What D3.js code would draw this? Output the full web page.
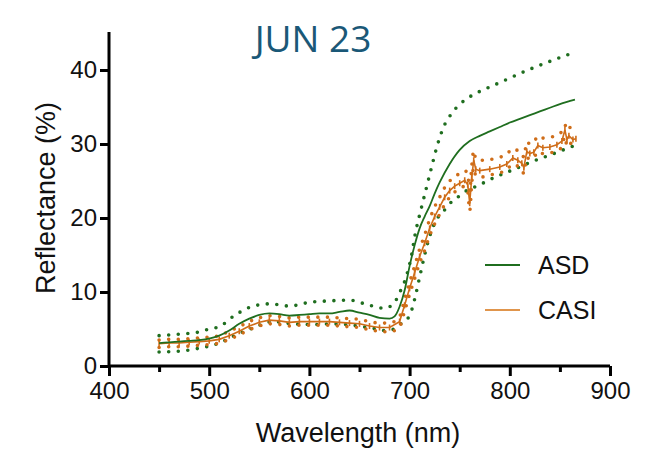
<!DOCTYPE html>
<html>
<head>
<meta charset="utf-8">
<script src="https://cdn.jsdelivr.net/npm/d3@7"></script>
<style>
  body { margin: 0; background: #fff; }
  svg { display: block; }
  .tick text { font-family: "Liberation Sans", Arial, sans-serif; }
</style>
</head>
<body>
<div class="chart"></div>
<script>
// ASD mean spectrum (nm, %)
var asdWl   = [450,460,470,480,490,500,510,520,530,540,550,560,570,580,590,600,610,620,630,640,650,660,670,680,685,690,695,700,705,710,715,720,725,730,740,750,760,770,780,790,800,810,820,830,840,850,865];
var asdMean = [3.1,3.2,3.3,3.4,3.5,3.7,4.1,4.8,5.7,6.4,6.9,7.1,7.0,6.8,6.9,7.0,7.1,7.1,7.3,7.5,7.2,6.9,6.5,6.4,6.7,8.0,10.2,13.5,16.3,18.6,20.2,21.6,23.3,24.8,27.3,29.2,30.4,31.1,31.7,32.3,32.9,33.4,33.9,34.4,34.9,35.4,36.0];

// ASD mean + sd
var asdUpWl = [450,470,490,500,510,525,540,560,580,600,620,640,660,675,685,690,695,698,702,705,712,717,722,727,733,743,758,767,785,820,865];
var asdUp   = [4.1,4.3,4.6,5.0,5.3,6.8,7.9,8.4,8.1,8.6,8.8,8.9,8.2,7.8,8.6,9.9,11.4,12.7,15.0,17.4,21.5,24.2,26.9,29.5,32.0,34.3,36.2,36.9,38.0,40.1,42.4];

// ASD mean - sd
var asdLoWl = [450,470,490,510,527,543,563,583,603,623,643,663,675,685,692,700,705,710,715,720,725,735,742,750,758,767,776,785,803,822,840,859,865];
var asdLo   = [1.9,2.0,2.4,3.1,4.2,5.1,6.0,5.7,5.6,5.7,5.5,5.1,4.8,5.0,5.8,6.8,9.0,12.0,15.0,17.5,19.3,21.1,22.2,23.0,23.8,24.3,24.9,25.5,26.5,27.6,28.5,29.5,29.8];

// CASI bands (nm) with mean, upper and lower reflectance (%)
var casiWl   = [450,460,470,480,490,500,510,520,530,540,550,560,570,580,590,600,610,620,630,640,650,660,670,680,690,695,700,705,710,715,720,725,730,735,740,745,750,755,758,760,762,764,766,770,780,790,797,803,808,812,814,817,820,824,828,833,840,847,852,855,857,859,863,866];
var casiMean = [3.0,3.1,3.1,3.2,3.3,3.4,3.6,4.1,4.7,5.4,5.9,6.2,6.1,5.9,6.0,6.0,6.0,6.0,5.9,5.8,5.7,5.4,5.2,5.2,6.0,8.2,10.5,12.6,14.8,16.6,18.6,20.2,21.5,22.8,23.7,24.3,24.7,25.1,24.5,22.0,25.5,27.8,26.6,26.4,26.6,26.9,27.3,28.1,27.8,27.4,26.8,29.0,28.7,28.9,29.8,29.5,29.6,29.9,30.4,31.9,30.6,31.1,30.6,30.7];
var casiUp   = [3.5,3.6,3.6,3.7,3.8,3.9,4.1,4.7,5.3,6.0,6.5,6.8,6.7,6.5,6.6,6.6,6.6,6.6,6.5,6.4,6.3,6.0,5.8,5.8,6.7,9.0,11.3,13.5,15.8,17.7,19.8,21.5,22.8,24.1,25.0,25.6,26.0,26.4,25.9,23.6,27.0,29.1,28.0,27.8,27.9,28.2,28.6,29.4,29.1,28.8,28.2,30.3,30.0,30.2,31.1,30.8,30.9,31.2,31.7,32.6,31.9,32.3,31.9,32.0];
var casiLo   = [2.5,2.6,2.6,2.7,2.8,2.9,3.1,3.6,4.2,4.9,5.4,5.7,5.6,5.4,5.5,5.5,5.5,5.5,5.4,5.3,5.2,4.9,4.7,4.6,5.3,7.4,9.7,11.8,13.9,15.6,17.6,19.2,20.5,21.8,22.8,23.5,23.9,24.3,23.6,21.0,24.6,26.8,25.7,25.5,25.8,26.1,26.5,27.3,27.0,26.6,26.0,28.2,27.9,28.1,29.0,28.7,28.8,29.1,29.6,31.0,29.8,30.3,29.8,29.9];

var xTicks = [400,500,600,700,800,900];
var xMinor = [450,550,650,750,850];
var yTicks = [0,10,20,30,40];
var legendNames = ["ASD","CASI"];

var green = "#1f6e1f", orange = "#cf6d19", orangeLight = "#e0954c", titleColor = "#1a5877";
var font = "Liberation Sans, Arial, sans-serif";

var width = 668, height = 451;
var svg = d3.select(".chart").append("svg").attr("width", width).attr("height", height);

var x = d3.scaleLinear().domain([400, 900]).range([109, 610]);
var y = d3.scaleLinear().domain([0, 40]).range([366, 70]);

function pts(wl, v) { return wl.map(function(d, i) { return [d, v[i]]; }); }
var line = d3.line().x(function(d) { return x(d[0]); }).y(function(d) { return y(d[1]); }).curve(d3.curveMonotoneX);
var lineRaw = d3.line().x(function(d) { return x(d[0]); }).y(function(d) { return y(d[1]); });

// dotted envelopes
function dotted(data, color) {
  svg.append("path").attr("d", line(data)).attr("fill", "none")
     .attr("stroke", color).attr("stroke-width", 3.6)
     .attr("stroke-linecap", "round").attr("stroke-dasharray", "0 9.6");
}
dotted(pts(asdUpWl, asdUp), green);
dotted(pts(asdLoWl, asdLo), green);
dotted(pts(casiWl, casiUp), orange);
dotted(pts(casiWl, casiLo), orange);

// CASI mean with small error bars
svg.append("g").selectAll("line").data(casiWl).enter().append("line")
   .attr("x1", function(d) { return x(d); }).attr("x2", function(d) { return x(d); })
   .attr("y1", function(d, i) { return y(casiMean[i]) - 3; })
   .attr("y2", function(d, i) { return y(casiMean[i]) + 3; })
   .attr("stroke", orange).attr("stroke-width", 1.6);
svg.append("path").attr("d", lineRaw(pts(casiWl, casiMean))).attr("fill", "none")
   .attr("stroke", orange).attr("stroke-width", 1.6);

// ASD mean
svg.append("path").attr("d", line(pts(asdWl, asdMean))).attr("fill", "none")
   .attr("stroke", green).attr("stroke-width", 1.8);

// axes
var xAxis = svg.append("g").attr("transform", "translate(0,366)")
   .call(d3.axisBottom(x).tickValues(xTicks).tickSize(10).tickPadding(6).tickFormat(d3.format("d")));
svg.append("g").attr("transform", "translate(0,366)")
   .call(d3.axisBottom(x).tickValues(xMinor).tickSize(6).tickFormat(""))
   .call(function(g) { g.select(".domain").remove(); });
var yAxis = svg.append("g").attr("transform", "translate(109,0)")
   .call(d3.axisLeft(y).tickValues(yTicks).tickSize(9).tickPadding(3));

svg.selectAll(".domain").attr("stroke", "#000").attr("stroke-width", 3);
svg.selectAll(".tick line").attr("stroke", "#000").attr("stroke-width", 3);
xAxis.select(".domain").attr("d", "M109,0H610");
yAxis.select(".domain").attr("d", "M0,32V367.5");
svg.selectAll(".tick text").attr("font-size", 24).attr("fill", "#111");

// axis titles
svg.append("text").attr("x", 358).attr("y", 442).attr("text-anchor", "middle")
   .attr("font-family", font).attr("font-size", 27).attr("fill", "#111")
   .text("Wavelength (nm)");
svg.append("text").attr("transform", "translate(55,198) rotate(-90)").attr("text-anchor", "middle")
   .attr("font-family", font).attr("font-size", 27).attr("fill", "#111")
   .text("Reflectance (%)");

// title
svg.append("text").attr("x", 313).attr("y", 52).attr("text-anchor", "middle")
   .attr("font-family", "Open Sans, sans-serif").attr("font-weight", 400).attr("font-size", 37).attr("fill", titleColor)
   .text("JUN 23");

// legend
var lg = svg.append("g").selectAll("g").data(legendNames).enter().append("g")
   .attr("transform", function(d, i) { return "translate(485," + (265 + i * 45) + ")"; });
lg.append("line").attr("x1", 0).attr("x2", 35).attr("y1", 0).attr("y2", 0)
   .attr("stroke", function(d, i) { return i ? orangeLight : green; }).attr("stroke-width", 2);
lg.append("text").attr("x", 53).attr("y", 9)
   .attr("font-family", font).attr("font-size", 25).attr("fill", "#111")
   .text(function(d) { return d; });
</script>
</body>
</html>
